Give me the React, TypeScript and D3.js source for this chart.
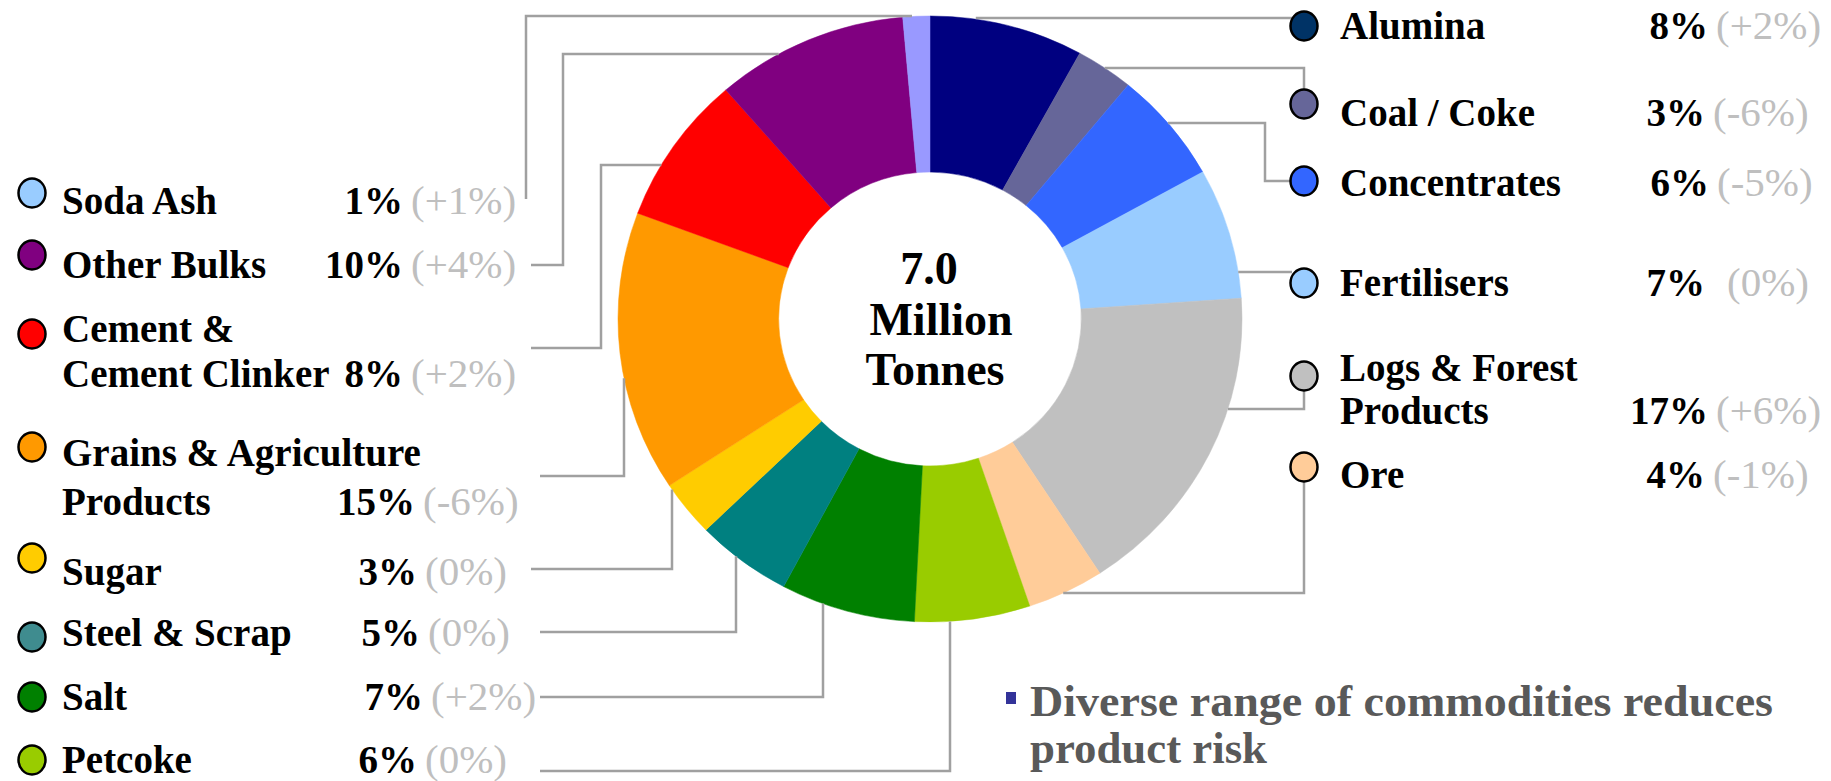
import React from 'react';
import * as d3 from 'd3';

// ---- data ----
const categories = [
  'Alumina', 'Coal / Coke', 'Concentrates', 'Fertilisers', 'Logs & Forest Products', 'Ore',
  'Petcoke', 'Salt', 'Steel & Scrap', 'Sugar', 'Grains & Agriculture Products',
  'Cement & Cement Clinker', 'Other Bulks', 'Soda Ash',
];
const shares = [8, 3, 6, 7, 17, 4, 6, 7, 5, 3, 15, 8, 10, 1.4];
const shareLabels = ['8%', '3%', '6%', '7%', '17%', '4%', '6%', '7%', '5%', '3%', '15%', '8%', '10%', '1%'];
const changes = ['+2%', '-6%', '-5%', '0%', '+6%', '-1%', '0%', '+2%', '0%', '0%', '-6%', '+2%', '+4%', '+1%'];
const sliceColors = [
  '#000080', '#666699', '#3366FF', '#99CCFF', '#C0C0C0', '#FFCC99',
  '#99CC00', '#008000', '#008080', '#FFCC00', '#FF9900', '#FF0000', '#800080', '#9999FF',
];
const legendColors = [
  '#003366', '#666699', '#3366FF', '#99CCFF', '#C0C0C0', '#FFCC99',
  '#99CC00', '#008000', '#3F8C8F', '#FFCC00', '#FF9900', '#FF0000', '#800080', '#99CCFF',
];
const totalLines = ['7.0', 'Million', 'Tonnes'];
const noteLines = ['Diverse range of commodities reduces', 'product risk'];

// ---- layout ----
const W = 1831, H = 781;
const cx = 930, cy = 319, rx = 312, ry = 303, innerRatio = 0.485;
const edgeX = (y: number, side: 'L' | 'R') => {
  const t = Math.sqrt(Math.max(0, 1 - ((y - cy) / ry) ** 2));
  return side === 'L' ? cx - rx * t : cx + rx * t;
};
const edgeYB = (x: number) => cy + ry * Math.sqrt(Math.max(0, 1 - ((x - cx) / rx) ** 2));

type Lay = {
  side: 'L' | 'R'; cy: number; lines: string[]; base: number[]; pctRight: number; gap?: number;
  leader: [number, number][];
};
const layout: Lay[] = [
  { side: 'R', cy: 26, lines: ['Alumina'], base: [39], pctRight: 1708, leader: [[edgeX(18, 'R') + 10, 18], [1292, 18]] },
  { side: 'R', cy: 104, lines: ['Coal / Coke'], base: [126], pctRight: 1705, leader: [[edgeX(68, 'R'), 68], [1304, 68], [1304, 90]] },
  { side: 'R', cy: 181, lines: ['Concentrates'], base: [196], pctRight: 1709, leader: [[edgeX(123, 'R'), 123], [1265, 123], [1265, 181], [1290, 181]] },
  { side: 'R', cy: 283, lines: ['Fertilisers'], base: [296], pctRight: 1705, gap: 22, leader: [[edgeX(272, 'R'), 272], [1292, 272]] },
  { side: 'R', cy: 376, lines: ['Logs & Forest', 'Products'], base: [381, 424], pctRight: 1708, leader: [[1304, 390], [1304, 409], [edgeX(409, 'R'), 409]] },
  { side: 'R', cy: 467, lines: ['Ore'], base: [488], pctRight: 1705, leader: [[1304, 481], [1304, 593], [edgeX(593, 'R'), 593]] },
  { side: 'L', cy: 760, lines: ['Petcoke'], base: [773], pctRight: 417, leader: [[540, 771], [950, 771], [950, edgeYB(950)]] },
  { side: 'L', cy: 697, lines: ['Salt'], base: [710], pctRight: 423, leader: [[540, 697], [823, 697], [823, edgeYB(823)]] },
  { side: 'L', cy: 637, lines: ['Steel & Scrap'], base: [646], pctRight: 420, leader: [[540, 632], [736, 632], [736, edgeYB(736)]] },
  { side: 'L', cy: 558, lines: ['Sugar'], base: [585], pctRight: 417, leader: [[531, 569], [672, 569], [672, edgeYB(672)]] },
  { side: 'L', cy: 447, lines: ['Grains & Agriculture', 'Products'], base: [466, 515], pctRight: 415, leader: [[540, 476], [624, 476], [624, edgeYB(624)]] },
  { side: 'L', cy: 334, lines: ['Cement &', 'Cement Clinker'], base: [342, 387], pctRight: 403, leader: [[531, 348], [601, 348], [601, 165], [edgeX(165, 'L'), 165]] },
  { side: 'L', cy: 255, lines: ['Other Bulks'], base: [278], pctRight: 403, leader: [[531, 265], [563, 265], [563, 54], [edgeX(54, 'L'), 54]] },
  { side: 'L', cy: 193, lines: ['Soda Ash'], base: [214], pctRight: 403, leader: [[526, 199], [526, 16], [912, 16]] },
];

const FONT = '"Liberation Serif", "Times New Roman", serif';

export default function App() {
  const pie = d3.pie<number>().sort(null).value((d) => d)(shares);
  const arc = d3.arc<d3.PieArcDatum<number>>().innerRadius(ry * innerRatio).outerRadius(ry);
  const line = d3.line();

  return (
    <svg width={W} height={H} viewBox={`0 0 ${W} ${H}`}
      style={{ position: 'absolute', left: 0, top: 0, background: '#fff' }}>
      <g transform={`translate(${cx},${cy}) scale(${rx / ry},1)`}>
        {pie.map((p, i) => (
          <path key={i} d={arc(p) || ''} fill={sliceColors[i]} stroke={sliceColors[i]} strokeWidth={0.5} />
        ))}
      </g>
      {layout.map((l, i) => (
        <path key={'ld' + i} d={line(l.leader) || ''} fill="none" stroke="#A0A0A0" strokeWidth={2.5} />
      ))}
      {layout.map((l, i) => {
        const circX = l.side === 'L' ? 32 : 1304;
        const textX = l.side === 'L' ? 62 : 1340;
        const lastBase = l.base[l.base.length - 1];
        return (
          <g key={'lg' + i} fontFamily={FONT} fontWeight="bold" fontSize={39}>
            <ellipse cx={circX} cy={l.cy} rx={13.5} ry={14.5} fill={legendColors[i]} stroke="#000" strokeWidth={2.5} />
            {l.lines.map((t, j) => (
              <text key={j} x={textX} y={l.base[j]} fill="#000">{t}</text>
            ))}
            <text x={l.pctRight} y={lastBase} textAnchor="end" fill="#000">{shareLabels[i]}</text>
            <text x={l.pctRight + (l.gap ?? 8)} y={lastBase} fill="#BFBFBF" fontWeight="normal" fontSize={41}>{`(${changes[i]})`}</text>
          </g>
        );
      })}
      <g fontFamily={FONT} fontWeight="bold" fontSize={46} fill="#000" textAnchor="middle">
        {totalLines.map((t, j) => (
          <text key={j} x={[929, 941, 935][j]} y={284 + j * 50.5}>{t}</text>
        ))}
      </g>
      <rect x={1006} y={692} width={10} height={12} fill="#333399" />
      <g fontFamily={FONT} fontWeight="bold" fontSize={45} fill="#595959">
        {noteLines.map((t, j) => (
          <text key={j} x={1030} y={716 + j * 47} textLength={j === 0 ? 743 : 237} lengthAdjust="spacingAndGlyphs">{t}</text>
        ))}
      </g>
    </svg>
  );
}
